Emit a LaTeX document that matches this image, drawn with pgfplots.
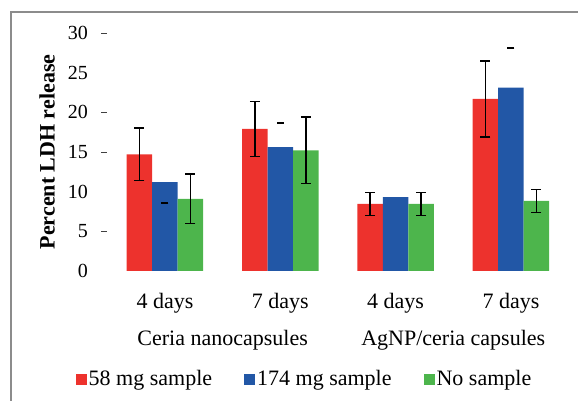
\documentclass[border=0pt]{standalone}
\usepackage{fontspec}
\setmainfont{Liberation Serif}
\usepackage{pgfplots}
\pgfplotsset{compat=1.18}
\definecolor{cred}{RGB}{237,50,45}
\definecolor{cblue}{RGB}{34,87,166}
\definecolor{cgreen}{RGB}{77,181,76}
\definecolor{frame}{RGB}{140,140,140}
\begin{document}
\begin{tikzpicture}
\begin{axis}[
  at={(0pt,0pt)}, anchor=south west,
  scale only axis, width=461.3pt, height=238pt,
  xmin=-0.5, xmax=3.5, ymin=0, ymax=30,
  clip=false,
  ybar=0pt, bar width=25.5pt,
  axis line style={draw=none},
  xtick={0,1,2,3}, xticklabels={4 days,7 days,4 days,7 days},
  xtick style={draw=none},
  xticklabel style={font=\fontsize{22}{26}\selectfont, yshift=-14pt},
  ytick={0,5,...,30},
  ytick style={draw=none},
  ytick pos=left,
  yticklabel style={font=\fontsize{20}{24}\selectfont, xshift=-16pt},
  /pgf/number format/assume math mode=true,
  extra y ticks={5,15,20,30},
  extra y tick labels={},
  extra y tick style={ytick style={draw=black!75, line width=1pt}, tick align=outside, major tick length=6pt, ytick pos=left},
  ylabel={\bfseries Percent LDH release},
  ylabel style={font=\fontsize{22}{26}\selectfont},
  legend columns=3,
  legend style={draw=none, fill=none, at={(0.4275,-0.4538)}, anchor=center,
    font=\fontsize{22}{26}\selectfont,
    /tikz/every even column/.append style={column sep=30pt}},
  legend image code/.code={\fill[#1] (0pt,-5.5pt) rectangle (11pt,5.5pt);},
  error bars/error bar style={line width=1.5pt, black},
  error bars/error mark options={rotate=90, mark size=5pt, line width=1.5pt, black},
]
\addplot[fill=cred, draw=none,
  error bars/.cd, y dir=both, y explicit]
  coordinates {(0,14.7) +- (0,3.3) (1,17.9) +- (0,3.45) (2,8.45) +- (0,1.45) (3,21.7) +- (0,4.8)};
\addlegendentry{58 mg sample}
\addplot[fill=cblue, draw=none]
  coordinates {(0,11.2) (1,15.6) (2,9.3) (3,23.1)};
\addlegendentry{174 mg sample}
\addplot[fill=cgreen, draw=none,
  error bars/.cd, y dir=both, y explicit]
  coordinates {(0,9.1) +- (0,3.1) (1,15.2) +- (0,4.2) (2,8.45) +- (0,1.45) (3,8.85) +- (0,1.45)};
\addlegendentry{No sample}
\addplot[sharp plot, only marks, mark=-, mark size=3.5pt, mark options={line width=1.8pt, black}, forget plot]
  coordinates {(0,8.6) (1,18.7) (3,28.1)};
\node[anchor=base, font=\fontsize{22}{26}\selectfont] at (axis cs:0.5,-9.33) {Ceria nanocapsules};
\node[anchor=base, font=\fontsize{22}{26}\selectfont] at (axis cs:2.5,-9.33) {AgNP/ceria capsules};
\end{axis}
\pgfresetboundingbox
\path[use as bounding box] (-107.3pt,-130pt) rectangle (470.7pt,271pt);
\draw[frame, line width=1.5pt] (-96.3pt,-140pt) -- (-96.3pt,259pt) -- (480pt,259pt);
\end{tikzpicture}
\end{document}
